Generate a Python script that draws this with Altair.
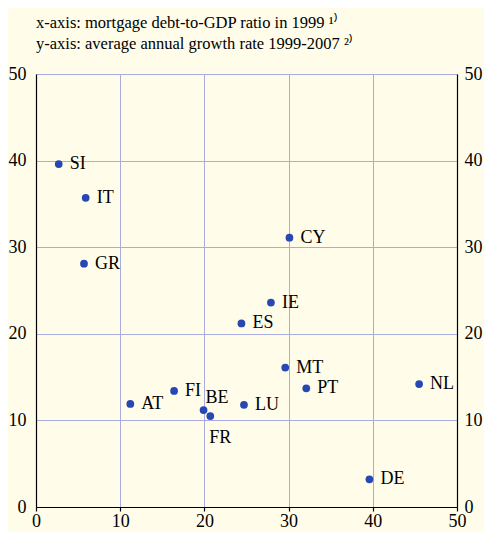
import altair as alt
import pandas as pd

countries = ["SI", "IT", "GR", "CY", "IE", "ES", "MT", "PT", "NL", "AT", "FI", "BE", "FR", "LU", "DE"]
mortgage_ratio_1999 = [2.7, 5.9, 5.7, 30.1, 27.9, 24.4, 29.6, 32.1, 45.5, 11.2, 16.4, 19.9, 20.7, 24.7, 39.6]
growth_1999_2007 = [39.6, 35.7, 28.1, 31.1, 23.6, 21.2, 16.1, 13.7, 14.2, 11.9, 13.4, 11.2, 10.5, 11.8, 3.2]
tick_values = [0, 10, 20, 30, 40, 50]
title_lines = [
    "x-axis: mortgage debt-to-GDP ratio in 1999 \u00b9\u207e",
    "y-axis: average annual growth rate 1999-2007 \u00b2\u207e",
]
above_labels = ["BE"]
below_labels = ["FR"]

df = pd.DataFrame({"country": countries, "x": mortgage_ratio_1999, "y": growth_1999_2007})

FONT = "Liberation Serif, Times New Roman, Times, serif"
BG = "#fffdea"
GRID = "#a9acdf"
DOT = "#2748b3"

x_enc = alt.X(
    "x:Q",
    scale=alt.Scale(domain=[0, 50], nice=False, zero=False),
    axis=alt.Axis(
        values=tick_values, title=None, grid=True, gridColor=GRID, gridWidth=1,
        domainColor="black", domainWidth=1.2, tickColor="black", tickSize=4, tickWidth=1.2,
        labelFont=FONT, labelFontSize=18, labelColor="black", labelPadding=1,
        labelFlush=False,
    ),
)
y_scale = alt.Scale(domain=[0, 50], nice=False, zero=False)

y_left = alt.Y(
    "y:Q", scale=y_scale,
    axis=alt.Axis(
        values=tick_values, title=None, grid=True, gridColor=GRID, gridWidth=1,
        domainColor="black", domainWidth=1.2, ticks=False,
        labelFont=FONT, labelFontSize=18, labelColor="black", labelPadding=10,
        labelFlush=False,
    ),
)
y_right = alt.Y(
    "y:Q", scale=y_scale,
    axis=alt.Axis(
        orient="right", values=tick_values, title=None, grid=False,
        domainColor="black", domainWidth=1.2, ticks=False,
        labelFont=FONT, labelFontSize=18, labelColor="black", labelPadding=7,
        labelFlush=False,
    ),
)
y_none = alt.Y("y:Q", scale=y_scale, axis=None)

base = alt.Chart(df)

points = base.mark_circle(size=60, color=DOT, opacity=1).encode(x=x_enc, y=y_left)
right_axis = base.mark_point(opacity=0).encode(x=x_enc, y=y_right)

special = above_labels + below_labels
labels_default = base.transform_filter(
    ~alt.FieldOneOfPredicate(field="country", oneOf=special)
).mark_text(align="left", baseline="middle", dx=11, font=FONT, fontSize=18, color="black").encode(
    x=x_enc, y=y_none, text="country:N"
)
labels_above = base.transform_filter(
    alt.FieldOneOfPredicate(field="country", oneOf=above_labels)
).mark_text(align="left", baseline="middle", dx=2, dy=-12, font=FONT, fontSize=18, color="black").encode(
    x=x_enc, y=y_none, text="country:N"
)
labels_below = base.transform_filter(
    alt.FieldOneOfPredicate(field="country", oneOf=below_labels)
).mark_text(align="left", baseline="middle", dx=-1, dy=22, font=FONT, fontSize=18, color="black").encode(
    x=x_enc, y=y_none, text="country:N"
)

chart = alt.layer(points, right_axis, labels_default, labels_above, labels_below).resolve_axis(
    y="independent"
).properties(
    width=421,
    height=433,
    background=BG,
    padding={"left": 28, "top": 66, "right": 27, "bottom": 25},
    autosize=alt.AutoSizeParams(type="none"),
    title=alt.TitleParams(
        text=title_lines, anchor="start", frame="group", font=FONT, fontSize=16.5,
        fontWeight="normal", color="black", lineHeight=21, offset=13,
    ),
).configure_view(stroke=None)

chart.save("out.html", embed_options={"renderer": "svg", "actions": False})
